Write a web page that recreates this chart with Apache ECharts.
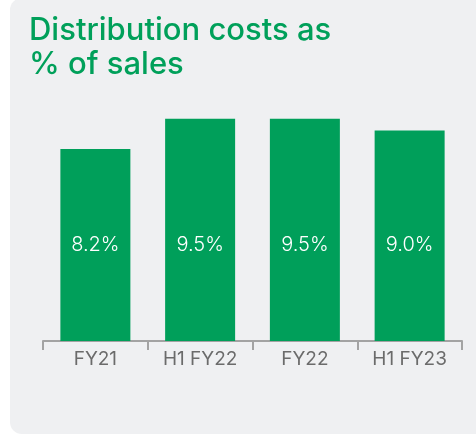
<!DOCTYPE html>
<html lang="en">
<head>
	<meta charset="UTF-8">
	<title>distribution costs</title>
	<style>
		html, body{
			margin: 0;
			padding: 0;
			background: #ffffff;
		}
		#panel{
			position: absolute;
			left: 10px;
			top: -2px;
			width: 480px;
			height: 436px;
			background: #eff0f2;
			border-radius: 12px;
		}
		#main{
			position: absolute;
			left: 0;
			top: 0;
			width: 476px;
			height: 435px;
		}
	</style>
	<script src="https://cdn.jsdelivr.net/npm/echarts@6/dist/echarts.min.js"></script>
</head>
<body>
	<div id="panel"></div>
	<div id="main"></div>

	<script>
		// data
		var categories = ['FY21', 'H1 FY22', 'FY22', 'H1 FY23'];
		var costs = [8.2, 9.5, 9.5, 9.0];

		var green = '#009f5a';
		var myChart = echarts.init(document.getElementById('main'));

		var option = {
			backgroundColor: 'transparent',
			title: {
				text: 'Distribution costs as\n% of sales',
				left: 24,
				top: 9,
				textStyle: {
					fontFamily: 'Inter',
					fontSize: 31,
					lineHeight: 34,
					fontWeight: 500,
					color: '#00a05a'
				}
			},
			grid: {
				left: 43,
				right: 14,
				top: 107,
				bottom: 94
			},
			xAxis: {
				type: 'category',
				data: categories,
				axisLine: {
					lineStyle: { color: '#a3a3a3', width: 2 }
				},
				axisTick: {
					show: true,
					length: 9,
					lineStyle: { color: '#a3a3a3', width: 2 }
				},
				axisLabel: {
					color: '#6b6b6b',
					fontFamily: 'Inter',
					fontSize: 19,
					margin: 9
				}
			},
			yAxis: {
				type: 'value',
				min: 0,
				max: 10,
				show: false
			},
			series: [{
				type: 'bar',
				data: costs,
				barWidth: 70,
				itemStyle: { color: green },
				label: {
					show: true,
					position: 'insideBottom',
					distance: 86,
					color: '#ffffff',
					fontFamily: 'Inter',
					fontWeight: 300,
					fontSize: 20,
					formatter: function (p) {
						return p.value.toFixed(1) + '%';
					}
				}
			}]
		};

		myChart.setOption(option);
	</script>
</body>
</html>
